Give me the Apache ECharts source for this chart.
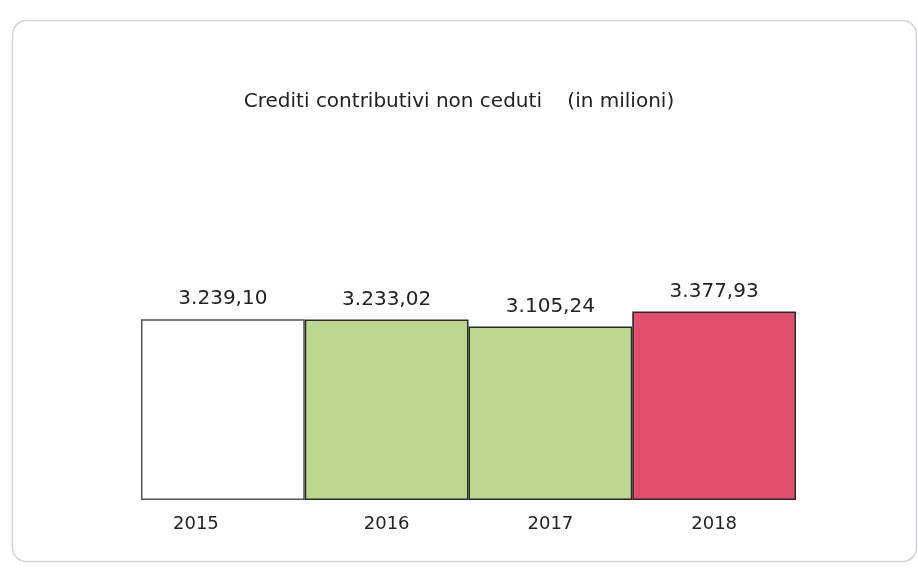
<!DOCTYPE html>
<html>
<head>
<meta charset="utf-8">
<script src="https://cdn.jsdelivr.net/npm/echarts@6/dist/echarts.min.js"></script>
<style>html,body{margin:0;padding:0;background:#fff;}#c{width:918px;height:569px;}</style>
</head>
<body>
<div id="c"></div>
<script>
const categories = ['2015', '2016', '2017', '2018'];
const values = [3239.10, 3233.02, 3105.24, 3377.93];
const barColors = ['#ffffff', '#bdd88e', '#bdd88e', '#e1506f'];
const titleText = 'Crediti contributivi non ceduti    (in milioni)';

function fmt(v) {
  const parts = v.toFixed(2).split('.');
  const intPart = parts[0].replace(/\B(?=(\d{3})+(?!\d))/g, '.');
  return intPart + ',' + parts[1];
}

const chart = echarts.init(document.getElementById('c'));
chart.setOption({
  backgroundColor: '#ffffff',
  animation: false,
  graphic: [{
    type: 'rect',
    left: 10, top: 18,
    shape: { width: 904, height: 541, r: 14 },
    style: { fill: 'none', stroke: '#d4d4d8', lineWidth: 1.5 },
    z: -1
  }],
  title: {
    text: titleText,
    left: 'center',
    top: 87,
    textStyle: { fontFamily: 'DejaVu Sans', fontWeight: 'normal', fontSize: 20, color: '#222' }
  },
  grid: { left: 141, right: 122, top: 165, bottom: 69 },
  xAxis: {
    type: 'category',
    data: categories.map((c, i) => i === 0 ? { value: c, textStyle: { padding: [0, 54, 0, 0] } } : c),
    axisLine: { show: false },
    axisTick: { show: false },
    axisLabel: { fontFamily: 'DejaVu Sans', fontSize: 18, color: '#222', margin: 15 }
  },
  yAxis: {
    type: 'value',
    min: 0, max: 6000,
    show: false,
    splitLine: { show: false }
  },
  series: [{
    type: 'bar',
    barCategoryGap: '0%',
    data: values.map((v, i) => ({
      value: v,
      itemStyle: { color: barColors[i], borderColor: i === 0 ? '#555' : '#2a2a2a', borderWidth: 1.5 }
    })),
    label: {
      show: true,
      position: 'top',
      distance: 10,
      formatter: p => fmt(p.value),
      fontFamily: 'DejaVu Sans',
      fontSize: 20,
      color: '#222'
    }
  }]
});
</script>
</body>
</html>
